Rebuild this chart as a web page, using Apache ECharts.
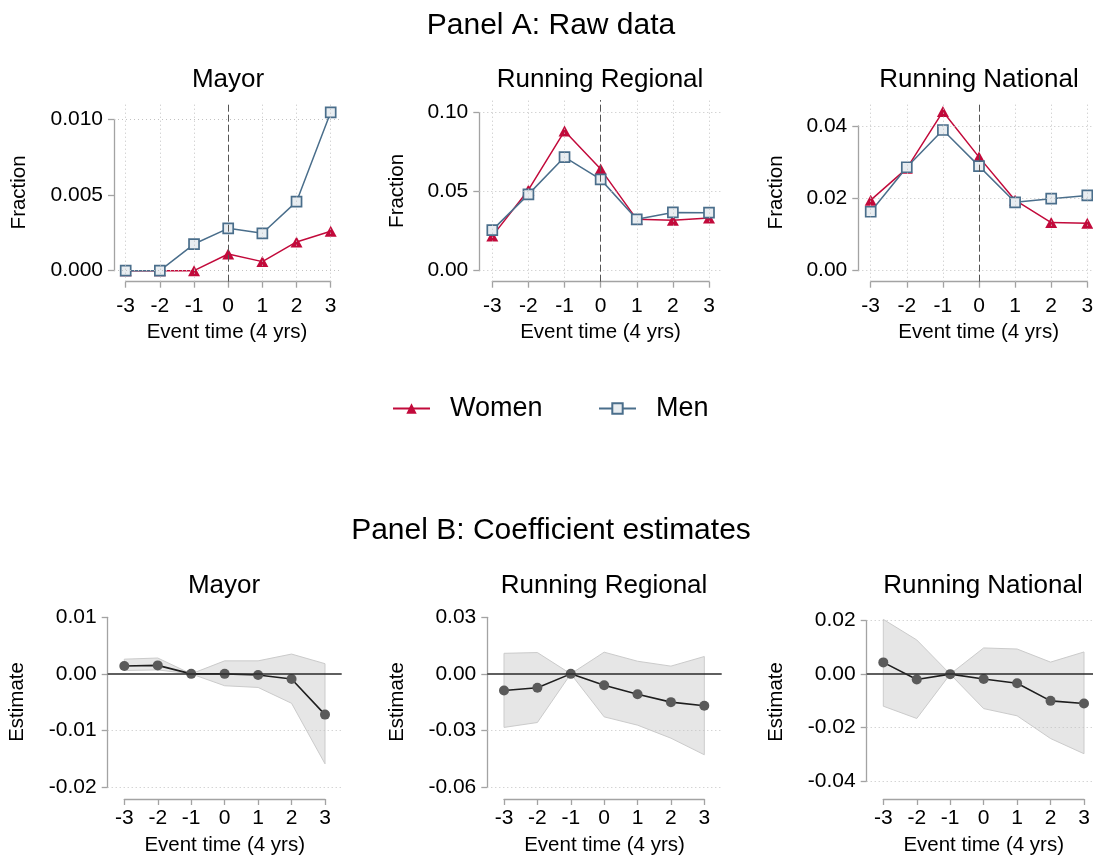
<!DOCTYPE html>
<html><head><meta charset="utf-8">
<script src="https://cdn.jsdelivr.net/npm/echarts@6/dist/echarts.min.js"></script>
<style>html,body{margin:0;padding:0;background:#fff}#c{width:1093px;height:858px}</style>
</head><body><div id="c"></div>
<script>
// ---------- data ----------
const eventTime = [-3, -2, -1, 0, 1, 2, 3];
const xTickValues = [-3, -2, -1, 0, 1, 2, 3];

// Panel A: raw data (fractions)
const mayorWomen    = [0, 0, 0, 0.0011, 0.0006, 0.0019, 0.0026];
const mayorMen      = [0, 0, 0.00176, 0.0028, 0.00247, 0.00456, 0.01046];
const regionalWomen = [0.0219, 0.0511, 0.0884, 0.0643, 0.0325, 0.0319, 0.0333];
const regionalMen   = [0.0257, 0.0483, 0.0719, 0.0578, 0.0325, 0.0369, 0.0367];
const nationalWomen = [0.0195, 0.0283, 0.0440, 0.0314, 0.0195, 0.0133, 0.0131];
const nationalMen   = [0.0163, 0.0286, 0.0389, 0.0289, 0.0189, 0.0199, 0.0208];
const mayorTicksA    = [0, 0.005, 0.010];
const regionalTicksA = [0, 0.05, 0.10];
const nationalTicksA = [0, 0.02, 0.04];

// Panel B: coefficient estimates with confidence band
const mayorEst    = [0.0014, 0.0015, 0, 0, -0.0002, -0.0009, -0.0072];
const mayorLo     = [0.0006, 0.0007, 0, -0.0021, -0.0024, -0.0052, -0.0159];
const mayorHi     = [0.0026, 0.0028, 0, 0.0023, 0.0023, 0.0035, 0.0018];
const regionalEst = [-0.0088, -0.0074, 0, -0.0060, -0.0108, -0.0150, -0.0169];
const regionalLo  = [-0.0284, -0.0258, 0, -0.0228, -0.0272, -0.0341, -0.0429];
const regionalHi  = [0.0109, 0.0113, 0, 0.0115, 0.0067, 0.0041, 0.0092];
const nationalEst = [0.0044, -0.0020, 0, -0.0018, -0.0034, -0.0100, -0.0110];
const nationalLo  = [-0.0120, -0.0166, 0, -0.0129, -0.0156, -0.0241, -0.0298];
const nationalHi  = [0.0205, 0.0128, 0, 0.0098, 0.0094, 0.0045, 0.0083];
const mayorTicksB    = [-0.02, -0.01, 0, 0.01];
const regionalTicksB = [-0.06, -0.03, 0, 0.03];
const nationalTicksB = [-0.04, -0.02, 0, 0.02];
const mayorGridB    = [-0.02, -0.01];
const regionalGridB = [-0.06, -0.03];
const nationalGridB = [-0.04, -0.02, 0.02];

const panelTitles = ['Panel A: Raw data', 'Panel B: Coefficient estimates'];
const subTitles = ['Mayor', 'Running Regional', 'Running National'];
const xName = 'Event time (4 yrs)';
const yNameA = 'Fraction';
const yNameB = 'Estimate';
const legendNames = ['Women', 'Men'];

// ---------- styles / layout ----------
const FONT = '"Liberation Sans", Arial, sans-serif';
const RED = '#c20a3b';
const BLUE = '#4a6e8b';
const SQFILL = '#e8edf1';
const AXIS = '#a3a3a3';
const GRIDC = '#c2c2c2';
const FS_TICK = 21, FS_NAME = 20.5, FS_SUB = 26, FS_PANEL = 30, FS_LEG = 27;

const layoutA = [
  {L:114,   R:340,  T:103, B:281.7, x0:125.7, x1:330.7, y0:270.7, y1:119.3, yGap:84, tx:228},
  {L:479.3, R:721.7,T:100, B:281.7, x0:492.3, x1:709,   y0:270.7, y1:112.7, yGap:71, tx:600},
  {L:858.3, R:1099, T:103, B:281.7, x0:870.7, x1:1087.3,y0:270.7, y1:126,   yGap:71.5, tx:979}
];
const layoutB = [
  {L:107.7, R:341.7, T:605, B:799, x0:124.3, x1:325,    y0:787, y1:617.3, yGap:79.5, tx:224},
  {L:487.3, R:721.7, T:605, B:799, x0:504,   x1:704.3,  y0:787, y1:617.3, yGap:79,   tx:604},
  {L:866.7, R:1100.7,T:605, B:799, x0:883.3, x1:1084,   y0:781, y1:620.7, yGap:80,   tx:983}
];

const grid = [], xAxis = [], yAxis = [], series = [];

function fmt(dec) { return v => (Math.abs(v) < 1e-12 ? 0 : v).toFixed(dec); }

function addPanel(lay, ticks, dec, yName, xLabelMargin, xNameGap) {
  const pxX = (lay.x1 - lay.x0) / 6;
  const xmin = -3 - (lay.x0 - lay.L) / pxX;
  const xmax = 3 + (lay.R - lay.x1) / pxX;
  const tLo = ticks[0], tHi = ticks[ticks.length - 1];
  const pxY = (lay.y0 - lay.y1) / (tHi - tLo);
  const ymax = tHi + (lay.y1 - lay.T) / pxY;
  const ymin = tLo - (lay.B - lay.y0) / pxY;
  // data grid (plot region)
  const gD = grid.length;
  grid.push({left: lay.L, top: lay.T, width: lay.R - lay.L, height: lay.B - lay.T, outerBoundsMode: 'none'});
  xAxis.push({type: 'value', gridIndex: gD, min: xmin, max: xmax, axisLine: {show: false, onZero: false}, axisTick: {show: false},
    axisLabel: {show: false}, splitLine: {show: false},
    name: xName, nameLocation: 'middle', nameGap: xNameGap,
    nameTextStyle: {fontFamily: FONT, fontSize: FS_NAME, color: '#000'}});
  yAxis.push({type: 'value', gridIndex: gD, min: ymin, max: ymax, axisLine: {show: false, onZero: false}, axisTick: {show: false},
    axisLabel: {show: false}, splitLine: {show: false},
    name: yName, nameLocation: 'middle', nameGap: lay.yGap,
    nameTextStyle: {fontFamily: FONT, fontSize: FS_NAME, color: '#000'}});
  // axis grid (tick range)
  const gA = grid.length;
  grid.push({left: lay.x0, top: lay.y1, width: lay.x1 - lay.x0, height: lay.y0 - lay.y1, outerBoundsMode: 'none'});
  xAxis.push({type: 'value', gridIndex: gA, min: xTickValues[0], max: xTickValues[xTickValues.length - 1], interval: 1,
    offset: lay.B - lay.y0, position: 'bottom',
    axisLine: {show: true, onZero: false, lineStyle: {color: AXIS, width: 1.3}},
    axisTick: {show: true, length: 6, lineStyle: {color: AXIS, width: 1.3}},
    axisLabel: {fontFamily: FONT, fontSize: FS_TICK, color: '#000', margin: xLabelMargin, showMinLabel: true, showMaxLabel: true},
    splitLine: {show: false}});
  yAxis.push({type: 'value', gridIndex: gA, min: tLo, max: tHi, interval: ticks[1] - ticks[0],
    offset: lay.x0 - lay.L, position: 'left',
    axisLine: {show: true, onZero: false, lineStyle: {color: AXIS, width: 1.3}},
    axisTick: {show: true, length: 6, lineStyle: {color: AXIS, width: 1.3}},
    axisLabel: {fontFamily: FONT, fontSize: FS_TICK, color: '#000', margin: 11, formatter: fmt(dec), showMinLabel: true, showMaxLabel: true},
    splitLine: {show: false}});
  return gD;
}

const pairs = (ys) => eventTime.map((x, i) => [x, ys[i]]);

// Panel A
const A = [
  {w: mayorWomen, m: mayorMen, ticks: mayorTicksA, dec: 3},
  {w: regionalWomen, m: regionalMen, ticks: regionalTicksA, dec: 2},
  {w: nationalWomen, m: nationalMen, ticks: nationalTicksA, dec: 2}
];
A.forEach((p, k) => {
  const g = addPanel(layoutA[k], p.ticks, p.dec, yNameA, 14, 40);
  const gl = [];
  p.ticks.forEach(v => gl.push({yAxis: v}));
  xTickValues.forEach(v => { if (v !== 0) gl.push({xAxis: v}); });
  gl.push({xAxis: 0, lineStyle: {type: [7, 3], color: '#555', width: 1}});
  series.push({type: 'line', xAxisIndex: g, yAxisIndex: g, data: [], silent: true, z: 1,
    markLine: {silent: true, animation: false, symbol: ['none', 'none'], label: {show: false},
      lineStyle: {color: GRIDC, type: [1, 3], width: 1}, emphasis: {disabled: true}, data: gl}});
  series.push({name: legendNames[0], type: 'line', xAxisIndex: g, yAxisIndex: g, data: pairs(p.w), clip: false, z: 3,
    symbol: 'triangle', symbolSize: [12, 11], showSymbol: true,
    itemStyle: {color: RED}, lineStyle: {color: RED, width: 1.5}, emphasis: {disabled: true}});
  series.push({name: legendNames[1], type: 'line', xAxisIndex: g, yAxisIndex: g, data: pairs(p.m), clip: false, z: 4,
    symbol: 'rect', symbolSize: 10, showSymbol: true,
    itemStyle: {color: SQFILL, borderColor: BLUE, borderWidth: 1.7}, lineStyle: {color: BLUE, width: 1.5}, emphasis: {disabled: true}});
});

// Panel B
const B = [
  {est: mayorEst, lo: mayorLo, hi: mayorHi, ticks: mayorTicksB, gridv: mayorGridB},
  {est: regionalEst, lo: regionalLo, hi: regionalHi, ticks: regionalTicksB, gridv: regionalGridB},
  {est: nationalEst, lo: nationalLo, hi: nationalHi, ticks: nationalTicksB, gridv: nationalGridB}
];
B.forEach((p, k) => {
  const g = addPanel(layoutB[k], p.ticks, 2, yNameB, 9, 36);
  series.push({type: 'custom', xAxisIndex: g, yAxisIndex: g, silent: true, z: 1, clip: false,
    data: eventTime.map((x, i) => [x, p.lo[i], p.hi[i]]), encode: {x: 0, y: [1, 2]},
    renderItem: (params, api) => {
      if (params.dataIndex !== 0) return null;
      const up = eventTime.map((x, i) => api.coord([x, p.hi[i]]));
      const dn = eventTime.map((x, i) => api.coord([x, p.lo[i]])).reverse();
      return {type: 'polygon', shape: {points: up.concat(dn)}, style: {fill: '#e6e6e6', stroke: '#cbcbcb', lineWidth: 1}};
    }});
  const gl = p.gridv.map(v => ({yAxis: v}));
  gl.push({yAxis: 0, lineStyle: {type: 'solid', color: '#2a2a2a', width: 1.6}});
  series.push({type: 'line', xAxisIndex: g, yAxisIndex: g, data: [], silent: true, z: 2,
    markLine: {silent: true, animation: false, symbol: ['none', 'none'], label: {show: false},
      lineStyle: {color: GRIDC, type: [1, 3], width: 1}, emphasis: {disabled: true}, data: gl}});
  series.push({type: 'line', xAxisIndex: g, yAxisIndex: g, data: pairs(p.est), clip: false, z: 3,
    symbol: 'circle', symbolSize: 10, showSymbol: true,
    itemStyle: {color: '#5a5a5a'}, lineStyle: {color: '#1e1e1e', width: 1.6}, emphasis: {disabled: true}});
});

const title = [
  {text: panelTitles[0], left: 551, top: 11, textAlign: 'center', padding: 0, textStyle: {fontFamily: FONT, fontSize: FS_PANEL, fontWeight: 'normal', color: '#000'}},
  {text: panelTitles[1], left: 551, top: 516, textAlign: 'center', padding: 0, textStyle: {fontFamily: FONT, fontSize: FS_PANEL, fontWeight: 'normal', color: '#000'}}
];
layoutA.forEach((l, k) => title.push({text: subTitles[k], left: l.tx, top: 67, textAlign: 'center', padding: 0,
  textStyle: {fontFamily: FONT, fontSize: FS_SUB, fontWeight: 'normal', color: '#000'}}));
layoutB.forEach((l, k) => title.push({text: subTitles[k], left: l.tx, top: 573, textAlign: 'center', padding: 0,
  textStyle: {fontFamily: FONT, fontSize: FS_SUB, fontWeight: 'normal', color: '#000'}}));

const legendBase = {orient: 'horizontal', top: 395, padding: 0, itemWidth: 37, itemHeight: 13, selectedMode: false,
  textStyle: {fontFamily: FONT, fontSize: FS_LEG, color: '#000', padding: [0, 0, 0, 15]}};
const legend = [
  Object.assign({}, legendBase, {left: 392, data: [legendNames[0]]}),
  Object.assign({}, legendBase, {left: 598, data: [legendNames[1]]})
];

const chart = echarts.init(document.getElementById('c'), null, {renderer: 'canvas'});
chart.setOption({animation: false, backgroundColor: '#fff', title, legend, grid, xAxis, yAxis, series});
</script></body></html>
